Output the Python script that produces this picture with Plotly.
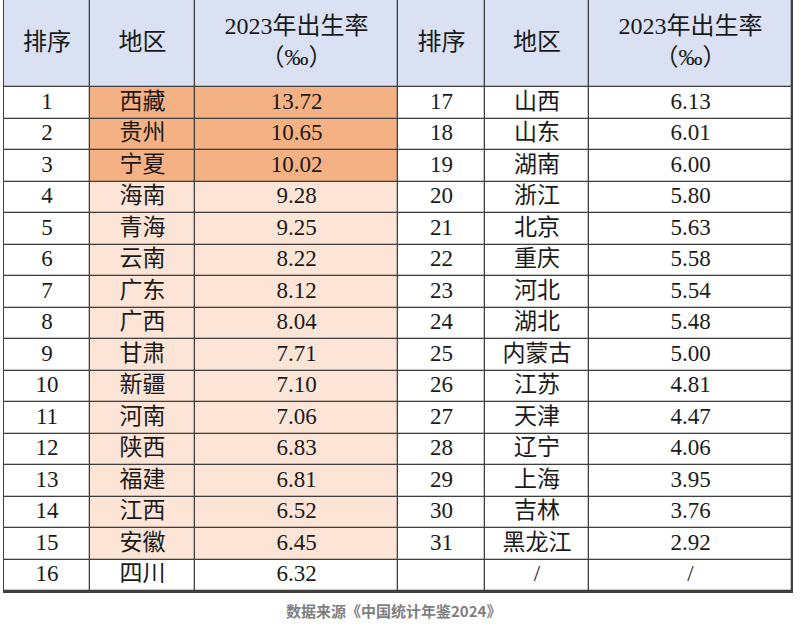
import plotly.graph_objects as go

# data
ranks = [1, 2, 3, 4, 5, 6, 7, 8, 9, 10, 11, 12, 13, 14, 15, 16,
         17, 18, 19, 20, 21, 22, 23, 24, 25, 26, 27, 28, 29, 30, 31]
regions = ["西藏", "贵州", "宁夏", "海南", "青海", "云南", "广东", "广西",
           "甘肃", "新疆", "河南", "陕西", "福建", "江西", "安徽", "四川",
           "山西", "山东", "湖南", "浙江", "北京", "重庆", "河北", "湖北",
           "内蒙古", "江苏", "天津", "辽宁", "上海", "吉林", "黑龙江"]
rates = [13.72, 10.65, 10.02, 9.28, 9.25, 8.22, 8.12, 8.04,
         7.71, 7.10, 7.06, 6.83, 6.81, 6.52, 6.45, 6.32,
         6.13, 6.01, 6.00, 5.80, 5.63, 5.58, 5.54, 5.48,
         5.00, 4.81, 4.47, 4.06, 3.95, 3.76, 2.92]
headers = ["排序", "地区", "2023年出生率<br>（‰）"]
source = "数据来源《中国统计年鉴2024》"
n_dark = 3    # rows shaded dark orange
n_light = 15  # rows shaded (dark + light)

# layout geometry (pixels)
col_edges = [4, 90, 195, 398, 485, 589, 792]
header_h = 87
row_h = 31.5
n_rows = 16
row_edges = [-2, header_h] + [header_h + row_h * (i + 1) for i in range(n_rows)]
table_bottom = row_edges[-1]

col_mid = [(col_edges[i] + col_edges[i + 1]) / 2 for i in range(6)]
row_mid = [(row_edges[i + 1] + row_edges[i + 2]) / 2 for i in range(n_rows)]

# fill codes: 0 white, 1 header, 2 dark orange, 3 light orange
z = [[1] * 6]
for i in range(n_rows):
    if i < n_dark:
        shade = 2
    elif i < n_light:
        shade = 3
    else:
        shade = 0
    z.append([0, shade, shade, 0, 0, 0])

line_color = '#404040'

# cell fills; the gaps between bricks let the dark background show as grid lines
fills = go.Heatmap(
    x=col_edges, y=row_edges, z=z, xgap=1.3, ygap=1.3,
    zmin=0, zmax=3, showscale=False, hoverinfo='skip',
    colorscale=[[0, '#ffffff'], [0.17, '#ffffff'],
                [0.17, '#d9e1f2'], [0.5, '#d9e1f2'],
                [0.5, '#f4b183'], [0.83, '#f4b183'],
                [0.83, '#fce4d6'], [1, '#fce4d6']])

font_family = "Liberation Serif, Noto Sans CJK SC"

# header text
hx, hy, ht = [], [], []
for side in range(2):
    for j in range(3):
        hx.append(col_mid[side * 3 + j])
        hy.append(header_h / 2)
        ht.append(headers[j])
header_trace = go.Scatter(
    x=hx, y=hy, text=ht, mode='text', hoverinfo='skip',
    textfont=dict(family=font_family, size=24, color='#1a1a1a'))

# body text
bx, by, bt = [], [], []
for i in range(len(ranks)):
    side = i // n_rows
    r = i % n_rows
    bx += [col_mid[side * 3], col_mid[side * 3 + 1], col_mid[side * 3 + 2]]
    by += [row_mid[r]] * 3
    bt += [str(ranks[i]), regions[i], f"{rates[i]:.2f}"]
# empty last cell on the right side
bx += [col_mid[4], col_mid[5]]
by += [row_mid[n_rows - 1]] * 2
bt += ["/", "/"]
body_trace = go.Scatter(
    x=bx, y=by, text=bt, mode='text', hoverinfo='skip',
    textfont=dict(family=font_family, size=23, color='#1a1a1a'))

fig = go.Figure(data=[fills, header_trace, body_trace])

fig.update_layout(
    width=800, height=636,
    margin=dict(l=col_edges[0], r=800 - col_edges[-1], t=0, b=636 - table_bottom),
    paper_bgcolor='white', plot_bgcolor=line_color,
    showlegend=False,
    xaxis=dict(range=[col_edges[0], col_edges[-1]], showgrid=False,
               showticklabels=False, ticks='', zeroline=False,
               showline=True, linecolor=line_color, linewidth=1.5, fixedrange=True),
    yaxis=dict(range=[table_bottom, 0], showgrid=False,
               showticklabels=False, ticks='', zeroline=False,
               showline=True, mirror=True, linecolor=line_color, linewidth=1,
               fixedrange=True),
    annotations=[dict(text=source, xref='paper', yref='paper', x=0.5, y=0,
                      xshift=-5, yshift=-19, yanchor='middle', showarrow=False,
                      font=dict(family="Noto Sans CJK SC", size=15,
                                color='#7f7f7f', weight='bold'))],
)

fig.write_html("out.html", config={'displayModeBar': False},
               post_script="document.body.style.margin='0';")
